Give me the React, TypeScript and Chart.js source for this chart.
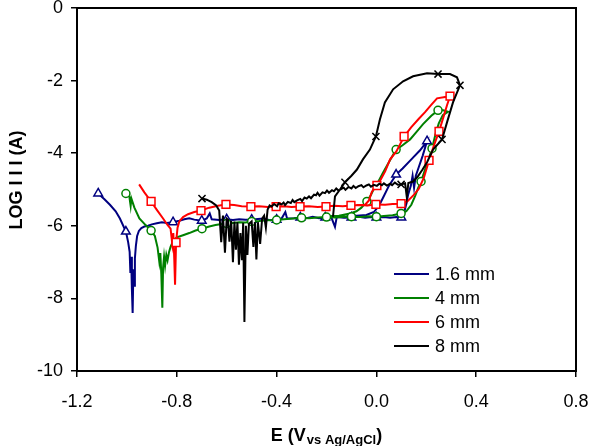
import { useEffect, useRef } from "react";
import { Chart, registerables } from "chart.js";

Chart.register(...registerables);

// [E (V vs Ag/AgCl), log|I| (A), marker flag]
type Pt = [number, number, number?];

const seriesLabels = ["1.6 mm", "4 mm", "6 mm", "8 mm"];
const xTicks = [-1.2, -0.8, -0.4, 0.0, 0.4, 0.8];
const yTicks = [0, -2, -4, -6, -8, -10];

const titleY = "LOG I I I (A)";
const titleXMain = "E (V";
const titleXSub = "vs Ag/AgCl";
const titleXEnd = ")";

const scan16: Pt[] = [
  [-1.115, -5.11, 1], [-1.09, -5.27], [-1.068, -5.42], [-1.045, -5.6], [-1.028, -5.8], [-1.004, -6.16, 1],
  [-0.995, -6.45], [-0.989, -6.72], [-0.986, -7.3], [-0.983, -6.85], [-0.98, -7.75], [-0.977, -8.4],
  [-0.974, -7.2], [-0.971, -7.65], [-0.968, -6.9], [-0.964, -6.55], [-0.959, -6.28], [-0.952, -6.14],
  [-0.942, -6.06], [-0.93, -6.02], [-0.915, -6.0], [-0.9, -5.96], [-0.88, -5.93], [-0.86, -5.9],
  [-0.84, -5.92], [-0.815, -5.9, 1], [-0.79, -5.86], [-0.77, -5.82], [-0.75, -5.79], [-0.73, -5.83],
  [-0.7, -5.86, 1], [-0.68, -5.8], [-0.668, -5.66], [-0.66, -5.82], [-0.63, -5.84], [-0.6, -5.82, 1],
  [-0.575, -5.84], [-0.55, -5.82], [-0.525, -5.83], [-0.5, -5.83, 1], [-0.475, -5.81], [-0.45, -5.8],
  [-0.425, -5.85], [-0.4, -5.83, 1], [-0.38, -5.8], [-0.365, -5.62], [-0.358, -5.8], [-0.33, -5.79],
  [-0.305, -5.77, 1], [-0.28, -5.79], [-0.255, -5.75], [-0.23, -5.79], [-0.205, -5.77, 1], [-0.18, -5.78],
  [-0.166, -6.03], [-0.159, -5.76], [-0.13, -5.78], [-0.1, -5.77, 1], [-0.07, -5.75], [-0.045, -5.78],
  [-0.02, -5.76], [0.0, -5.77, 1], [0.03, -5.76], [0.055, -5.78], [0.08, -5.76], [0.1, -5.77, 1],
  [0.108, -5.72], [0.118, -5.45], [0.128, -5.12], [0.138, -4.9], [0.145, -4.62], [0.151, -4.95],
  [0.158, -4.62], [0.17, -4.38], [0.185, -4.08], [0.203, -3.67, 1],
  [0.175, -3.92], [0.14, -4.17], [0.105, -4.42], [0.079, -4.59, 1], [0.05, -4.9], [0.03, -5.18],
  [0.01, -5.45], [-0.01, -5.62], [-0.04, -5.7], [-0.08, -5.72], [-0.12, -5.74],
];

const scan4: Pt[] = [
  [-1.004, -5.11, 1], [-0.99, -5.2], [-0.985, -5.45], [-0.982, -5.25], [-0.97, -5.5], [-0.95, -5.8],
  [-0.925, -5.98], [-0.903, -6.13, 1], [-0.888, -6.28], [-0.877, -6.6], [-0.87, -7.0], [-0.866, -6.75],
  [-0.862, -7.35], [-0.858, -8.26], [-0.855, -7.15], [-0.851, -6.85], [-0.847, -7.1], [-0.842, -6.8],
  [-0.837, -6.95], [-0.831, -6.72], [-0.825, -6.58], [-0.815, -6.42], [-0.8, -6.32], [-0.775, -6.26],
  [-0.75, -6.2], [-0.725, -6.13], [-0.699, -6.08, 1], [-0.67, -6.02], [-0.645, -5.98], [-0.62, -5.95],
  [-0.6, -5.94, 1], [-0.575, -5.92], [-0.55, -5.9], [-0.525, -5.91], [-0.5, -5.88, 1], [-0.47, -5.87],
  [-0.44, -5.85], [-0.4, -5.84, 1], [-0.37, -5.82], [-0.335, -5.8], [-0.3, -5.78, 1], [-0.27, -5.79],
  [-0.235, -5.77], [-0.2, -5.76, 1], [-0.165, -5.77], [-0.13, -5.75], [-0.1, -5.75, 1], [-0.065, -5.76],
  [-0.03, -5.74], [0.0, -5.75, 1], [0.03, -5.73], [0.065, -5.71], [0.099, -5.66, 1], [0.12, -5.6],
  [0.14, -5.42], [0.155, -5.18], [0.167, -4.96], [0.179, -4.78, 1], [0.195, -4.45], [0.21, -4.15],
  [0.223, -3.87, 1], [0.236, -3.5], [0.25, -3.18], [0.266, -2.95], [0.287, -2.86],
  [0.268, -2.82], [0.247, -2.82, 1], [0.22, -2.97], [0.187, -3.2], [0.16, -3.42], [0.135, -3.62],
  [0.105, -3.78], [0.079, -3.9, 1], [0.05, -4.25], [0.027, -4.53], [0.01, -4.75], [-0.006, -4.92],
  [-0.022, -5.15], [-0.038, -5.33, 1], [-0.06, -5.5], [-0.08, -5.6], [-0.106, -5.66], [-0.15, -5.72],
  [-0.2, -5.74],
];

const scan6: Pt[] = [
  [-0.951, -4.86], [-0.93, -5.08], [-0.903, -5.33, 1], [-0.88, -5.56], [-0.855, -5.8], [-0.838, -5.97],
  [-0.825, -6.08], [-0.818, -6.5], [-0.814, -6.2], [-0.81, -6.95], [-0.807, -7.62], [-0.803, -6.46, 1],
  [-0.797, -6.05], [-0.79, -5.88], [-0.775, -5.76], [-0.755, -5.68], [-0.73, -5.62], [-0.703, -5.58, 1],
  [-0.67, -5.5], [-0.635, -5.45], [-0.603, -5.41, 1], [-0.57, -5.43], [-0.54, -5.46], [-0.503, -5.47, 1],
  [-0.47, -5.46], [-0.435, -5.48], [-0.402, -5.47, 1], [-0.37, -5.46], [-0.34, -5.48], [-0.306, -5.47, 1],
  [-0.27, -5.46], [-0.235, -5.48], [-0.202, -5.47, 1], [-0.17, -5.45], [-0.135, -5.46], [-0.102, -5.44, 1],
  [-0.07, -5.43], [-0.035, -5.44], [-0.002, -5.41, 1], [0.035, -5.42], [0.065, -5.4], [0.099, -5.39, 1],
  [0.125, -5.32], [0.15, -5.15], [0.17, -4.98], [0.19, -4.68], [0.211, -4.2, 1], [0.23, -3.8],
  [0.251, -3.4, 1], [0.268, -3.02], [0.283, -2.68], [0.295, -2.43, 1],
  [0.275, -2.45], [0.243, -2.49], [0.218, -2.68], [0.195, -2.87], [0.17, -3.05], [0.14, -3.28],
  [0.111, -3.54, 1], [0.08, -3.95], [0.055, -4.17], [0.035, -4.5], [0.018, -4.72], [0.002, -4.89, 1],
  [-0.018, -5.06], [-0.03, -5.3], [-0.045, -5.42], [-0.08, -5.43],
];

const scan8: Pt[] = [
  [-0.699, -5.25, 1], [-0.68, -5.28], [-0.66, -5.35], [-0.642, -5.44], [-0.63, -5.58], [-0.622, -6.45],
  [-0.615, -5.72], [-0.607, -6.74], [-0.6, -5.8], [-0.595, -5.83], [-0.589, -6.44], [-0.582, -5.86],
  [-0.575, -7.0], [-0.569, -5.88], [-0.563, -6.66], [-0.557, -5.9], [-0.551, -7.07], [-0.545, -6.2],
  [-0.539, -6.95], [-0.534, -5.92], [-0.529, -8.65], [-0.523, -6.0], [-0.517, -6.8], [-0.511, -5.95],
  [-0.5, -5.88], [-0.493, -6.58], [-0.487, -5.9], [-0.481, -6.93], [-0.475, -5.9], [-0.466, -6.5],
  [-0.458, -5.8], [-0.45, -5.72], [-0.443, -6.05], [-0.436, -5.55], [-0.428, -5.44], [-0.42, -5.47],
  [-0.41, -5.4], [-0.398, -5.46], [-0.392, -5.38], [-0.38, -5.41], [-0.372, -5.36], [-0.366, -5.43],
  [-0.355, -5.34], [-0.343, -5.37], [-0.336, -5.29], [-0.329, -5.35], [-0.318, -5.3], [-0.305, -5.26],
  [-0.298, -5.32], [-0.288, -5.22], [-0.279, -5.25], [-0.27, -5.19], [-0.262, -5.24], [-0.25, -5.14],
  [-0.242, -5.16], [-0.236, -5.09], [-0.228, -5.17], [-0.216, -5.08], [-0.206, -5.1], [-0.198, -5.03],
  [-0.19, -5.09], [-0.178, -5.02], [-0.17, -5.05], [-0.161, -4.97], [-0.152, -5.03], [-0.14, -4.98],
  [-0.131, -4.95], [-0.124, -5.01], [-0.112, -4.93], [-0.1, -4.97], [-0.092, -4.9], [-0.083, -4.96],
  [-0.072, -4.91], [-0.06, -4.88], [-0.052, -4.94], [-0.04, -4.89], [-0.03, -4.86], [-0.022, -4.92],
  [-0.01, -4.87], [0.002, -4.9], [0.012, -4.84], [0.022, -4.88], [0.03, -4.83], [0.042, -4.89],
  [0.055, -4.84], [0.063, -4.88], [0.074, -4.81], [0.086, -4.87], [0.099, -4.86, 1], [0.115, -4.83],
  [0.122, -5.22], [0.128, -4.82], [0.147, -4.78], [0.165, -4.65], [0.185, -4.45], [0.203, -4.25],
  [0.227, -3.9], [0.263, -3.62, 1], [0.283, -3.15], [0.307, -2.6], [0.335, -2.13, 1],
  [0.323, -1.91], [0.295, -1.82], [0.247, -1.82, 1], [0.203, -1.8], [0.147, -1.88], [0.107, -2.02],
  [0.067, -2.24], [0.034, -2.6], [0.014, -3.07], [-0.002, -3.54, 1], [-0.026, -3.9], [-0.054, -4.17],
  [-0.078, -4.45], [-0.1, -4.62], [-0.126, -4.8, 1], [-0.146, -5.0], [-0.166, -5.19], [-0.174, -5.75],
];

const scans = [scan16, scan4, scan6, scan8];

const FONT = "'Liberation Sans', Arial, Helvetica, sans-serif";
const colors = ["#000080", "#008000", "#FF0000", "#000000"];
const markerStyles = ["triangle", "circle", "rect", "crossRot"];
const markerRadius = [5, 4, 5.5, 5];

// keep the plot area exactly where the layout padding puts it
const noScalePadding = (s: any) => {
  s.paddingTop = 0;
  s.paddingBottom = 0;
  s.paddingLeft = 0;
  s.paddingRight = 0;
};

const decorPlugin = {
  id: "decor",
  afterDraw(chart: any) {
    const { ctx, chartArea: a } = chart;
    ctx.save();
    // frame around the plot area
    ctx.strokeStyle = "#000";
    ctx.lineWidth = 2;
    ctx.strokeRect(a.left, a.top, a.right - a.left, a.bottom - a.top);

    ctx.fillStyle = "#000";
    // y-axis title
    ctx.save();
    ctx.translate(17, 180);
    ctx.rotate(-Math.PI / 2);
    ctx.font = `bold 18px ${FONT}`;
    ctx.textAlign = "center";
    ctx.textBaseline = "middle";
    ctx.fillText(titleY, 0, 0);
    ctx.restore();

    // x-axis title with subscript
    const mainFont = `bold 18px ${FONT}`;
    const subFont = `bold 13px ${FONT}`;
    ctx.font = mainFont;
    const w1 = ctx.measureText(titleXMain).width;
    const w3 = ctx.measureText(titleXEnd).width;
    ctx.font = subFont;
    const w2 = ctx.measureText(titleXSub).width;
    const total = w1 + w2 + w3 + 1;
    let x = (a.left + a.right) / 2 - total / 2;
    const base = 441;
    ctx.textAlign = "left";
    ctx.textBaseline = "alphabetic";
    ctx.font = mainFont;
    ctx.fillText(titleXMain, x, base);
    x += w1 + 1;
    ctx.font = subFont;
    ctx.fillText(titleXSub, x, base + 3);
    x += w2;
    ctx.font = mainFont;
    ctx.fillText(titleXEnd, x, base);

    // legend
    const lx0 = a.left + 317;
    const lx1 = a.left + 352;
    const tx = a.left + 358;
    ctx.font = `18px ${FONT}`;
    ctx.textBaseline = "middle";
    seriesLabels.forEach((label, i) => {
      const y = a.top + 266 + i * 24;
      ctx.strokeStyle = colors[i];
      ctx.lineWidth = 2;
      ctx.beginPath();
      ctx.moveTo(lx0, y);
      ctx.lineTo(lx1, y);
      ctx.stroke();
      ctx.fillStyle = "#000";
      ctx.fillText(label, tx, y + 1);
    });
    ctx.restore();
  },
};

export default function App() {
  const ref = useRef<HTMLCanvasElement>(null);

  useEffect(() => {
    const canvas = ref.current;
    if (!canvas) return;
    const datasets = scans.map((scan, i) => ({
      label: seriesLabels[i],
      data: scan.map(([x, y, m]) => ({ x, y, m: m ? 1 : 0 })),
      showLine: true,
      borderColor: colors[i],
      borderWidth: 2,
      tension: 0,
      pointStyle: markerStyles[i],
      pointRadius: (c: any) => (c.raw && c.raw.m ? markerRadius[i] : 0),
      pointBorderColor: colors[i],
      pointBackgroundColor: "#ffffff",
      pointBorderWidth: 1.5,
      order: 4 - i,
    }));

    const chart = new Chart(canvas, {
      type: "scatter",
      data: { datasets } as any,
      options: {
        responsive: false,
        animation: false,
        events: [],
        layout: { padding: { left: 0, right: 16, top: 8, bottom: 0 } },
        plugins: { legend: { display: false }, tooltip: { enabled: false } },
        scales: {
          x: {
            type: "linear",
            min: xTicks[0],
            max: xTicks[xTicks.length - 1],
            afterBuildTicks: (s: any) => {
              s.ticks = xTicks.map((v) => ({ value: v }));
            },
            afterFit: (s: any) => {
              s.height = 75;
              noScalePadding(s);
            },
            border: { display: true, color: "#000", width: 2 },
            grid: { drawOnChartArea: false, drawTicks: true, tickLength: 6, color: "#000", lineWidth: 1.5 },
            ticks: {
              color: "#000",
              font: { family: FONT, size: 18 },
              padding: 14,
              maxRotation: 0,
              autoSkip: false,
              callback: (v: any) => Number(v).toFixed(1),
            },
          },
          y: {
            type: "linear",
            min: yTicks[yTicks.length - 1],
            max: yTicks[0],
            afterBuildTicks: (s: any) => {
              s.ticks = yTicks.map((v) => ({ value: v }));
            },
            afterFit: (s: any) => {
              s.width = 77;
              noScalePadding(s);
            },
            border: { display: true, color: "#000", width: 2 },
            grid: { drawOnChartArea: false, drawTicks: true, tickLength: 6, color: "#000", lineWidth: 1.5 },
            ticks: {
              color: "#000",
              font: { family: FONT, size: 18, lineHeight: 1 },
              padding: 8,
              autoSkip: false,
              callback: (v: any) => String(v),
            },
          },
        },
      } as any,
      plugins: [decorPlugin],
    });
    return () => chart.destroy();
  }, []);

  return (
    <div style={{ position: "absolute", left: 0, top: 0, width: 592, height: 446, background: "#fff" }}>
      <canvas ref={ref} width={592} height={446} style={{ display: "block" }} />
    </div>
  );
}
